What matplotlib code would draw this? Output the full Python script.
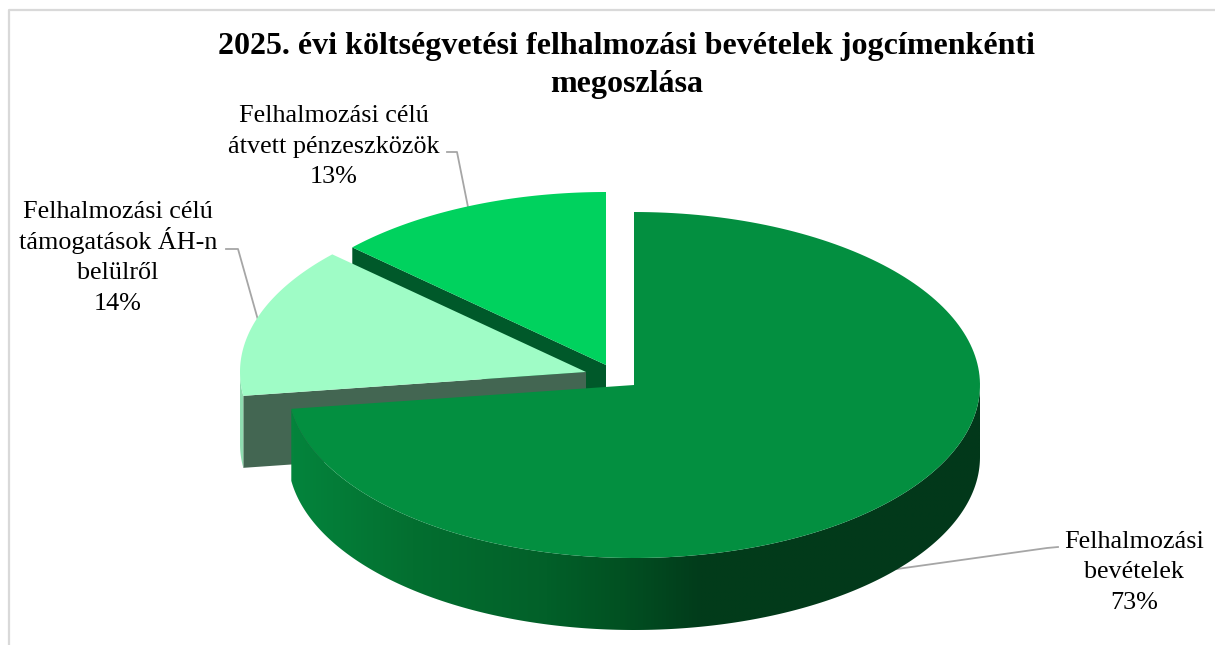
import numpy as np
import matplotlib.pyplot as plt
from matplotlib.colors import LinearSegmentedColormap
from matplotlib.patches import Polygon

# chart data
categories = [['Felhalmozási', 'bevételek'],
              ['Felhalmozási célú', 'támogatások ÁH-n', 'belülről'],
              ['Felhalmozási célú', 'átvett pénzeszközök']]
shares = [72.8, 14.1, 13.1]
title_lines = ['2025. évi költségvetési felhalmozási bevételek jogcímenkénti', 'megoszlása']

# look of the pie, in pixels of the figure
centers = [(634, 385), (586, 372), (606, 365)]
top_colors = ['#038f40', '#9ffcc6', '#00d25e']
cut_colors = ['#038f40', '#436652', '#00592a']
rim_colors = ['#04843c', '#8fdcb0', '#00592a']
label_pos = [(1134, 548), (118, 218), (334, 122)]
leaders = [[(1058, 547), (1047, 548), (897, 569)],
           [(226, 249), (238, 249), (258, 320)],
           [(447, 152), (457, 152), (468, 207)]]
rx, ry, depth = 346, 173, 72

# rim shading from left to right across the main slice
shade = LinearSegmentedColormap.from_list('rim', [(0, '#04843c'), (0.176, '#036f30'), (0.37, '#026029'),
                                                  (0.477, '#015122'), (0.594, '#023c1b'), (1, '#02381a')])

plt.rcParams['font.family'] = ['Liberation Serif', 'DejaVu Serif']
fig = plt.figure(figsize=(12.15, 6.45), dpi=100)
ax = fig.add_axes([0, 0, 1, 1])
ax.axis('off')


def ell(c, t):
    return c[0] + rx * np.sin(t), c[1] - ry * np.cos(t)


edges = np.radians(np.cumsum([0] + shares) * 3.6)

# chart frame
ax.plot([9, 9, 1215], [645, 10, 10], color='#d9d9d9', lw=1.6)

# back to front: last slice first
for i in [2, 1, 0]:
    c = centers[i]
    t0, t1 = edges[i], edges[i + 1]
    # cut face along the slice's end
    if i > 0:
        ex, ey = ell(c, t0)
        ax.fill([c[0], ex, ex, c[0]], [c[1], ey, ey + depth, c[1] + depth], color=cut_colors[i], lw=0)
    # outer rim, only the part that faces the viewer
    a = max(t0, np.pi / 2)
    b = min(t1, 3 * np.pi / 2)
    if a < b:
        ts = np.linspace(a, b, 260)
        xs, ys = ell(c, ts)
        rim = np.c_[np.r_[xs, xs[::-1]], np.r_[ys, ys[::-1] + depth]]
        if i == 0:
            lo, hi = xs.min(), xs.max()
            patch = Polygon(rim, closed=True, fc='none', ec='none', transform=ax.transData)
            ax.add_patch(patch)
            im = ax.imshow(np.linspace(0, 1, 600)[None, :], cmap=shade, aspect='auto', zorder=1,
                           extent=(lo, hi, ys.max() + depth, ys.min()), interpolation='bilinear')
            im.set_clip_path(patch)
        else:
            ax.fill(rim[:, 0], rim[:, 1], color=rim_colors[i], lw=0)
    # top of the slice
    ts = np.linspace(t0, t1, 200)
    xs, ys = ell(c, ts)
    ax.fill(np.r_[c[0], xs], np.r_[c[1], ys], color=top_colors[i], lw=0, zorder=1)

for i in range(3):
    pts = np.array(leaders[i])
    ax.plot(pts[:, 0], pts[:, 1], color='#a6a6a6', lw=1.3, zorder=0.5)
    lines = categories[i] + [f'{shares[i]:.0f}%']
    for n, line in enumerate(lines):
        ax.text(label_pos[i][0], label_pos[i][1] + n * 30.5, line, ha='center', va='baseline',
                fontsize=18.8, color='#000000')

for n, line in enumerate(title_lines):
    ax.text(627, 54 + n * 38, line, ha='center', va='baseline', fontsize=23, fontweight='bold')

ax.set_xlim(0, 1215)
ax.set_ylim(645, 0)
fig.savefig('out.png', dpi=100)
